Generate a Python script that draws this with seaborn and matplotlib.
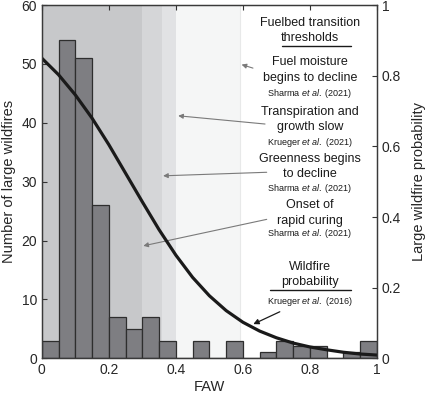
import matplotlib
matplotlib.use("Agg")
import matplotlib.pyplot as plt
import seaborn as sns
import numpy as np
import pandas as pd

# histogram of large wildfires per FAW bin (bin width 0.05)
bin_starts = [0.00, 0.05, 0.10, 0.15, 0.20, 0.25, 0.30, 0.35, 0.40, 0.45,
              0.50, 0.55, 0.60, 0.65, 0.70, 0.75, 0.80, 0.85, 0.90, 0.95]
fire_counts = [3, 54, 51, 26, 7, 5, 7, 3, 0, 3,
               0, 3, 0, 1, 3, 2, 2, 0, 1, 3]

# wildfire probability curve (Krueger et al. 2016)
curve_faw = [0.00, 0.05, 0.10, 0.15, 0.20, 0.25, 0.30, 0.35, 0.40, 0.45, 0.50,
             0.55, 0.60, 0.65, 0.70, 0.75, 0.80, 0.85, 0.90, 0.95, 1.00]
curve_prob = [0.850, 0.803, 0.746, 0.680, 0.605, 0.524, 0.443, 0.364, 0.292, 0.229, 0.177,
              0.135, 0.102, 0.077, 0.058, 0.043, 0.032, 0.024, 0.017, 0.012, 0.009]

# fuelbed transition thresholds (FAW) and their shading
thresholds = [0.59, 0.40, 0.36, 0.30]
shades = ['#f5f6f6', '#e1e2e4', '#d5d6d8', '#c7c8ca']

sns.set_style('white')
plt.rcParams['font.family'] = ['Liberation Sans', 'DejaVu Sans']
plt.rcParams['mathtext.fontset'] = 'custom'
plt.rcParams['mathtext.rm'] = 'Liberation Sans'
plt.rcParams['mathtext.it'] = 'Liberation Sans:italic'

hist_df = pd.DataFrame({'faw': np.array(bin_starts) + 0.025, 'count': fire_counts})
curve_df = pd.DataFrame({'faw': curve_faw, 'prob': curve_prob})

fig = plt.figure(figsize=(4.26, 3.95), dpi=100)
ax = fig.add_axes([0.098, 0.093, 0.787, 0.894])

for t, c in zip(thresholds, shades):
    ax.axvspan(0, t, color=c, lw=0, zorder=0)
ax.axvline(thresholds[0], color='#e8e9e9', lw=0.8, zorder=0)

sns.histplot(data=hist_df, x='faw', weights='count', binwidth=0.05, binrange=(0, 1),
             color='#7e7e82', edgecolor='#2e2e2e', linewidth=0.9, alpha=1, ax=ax)

ax.set_xlim(0, 1)
ax.set_ylim(0, 60)
ax.set_xticks([0, 0.2, 0.4, 0.6, 0.8, 1])
ax.set_xticklabels(['0', '0.2', '0.4', '0.6', '0.8', '1'])
ax.set_yticks([0, 10, 20, 30, 40, 50, 60])
ax.set_xlabel('FAW', fontsize=10.5, labelpad=2)
ax.set_ylabel('Number of large wildfires', fontsize=10.5, labelpad=4)
ax.tick_params(direction='in', length=3.5, width=0.8, labelsize=10, top=True, color='#333333')

ax2 = ax.twinx()
sns.lineplot(data=curve_df, x='faw', y='prob', color='#1a1a1a', lw=2.3, ax=ax2)
ax2.set_ylim(0, 1)
ax2.set_xlim(0, 1)
ax2.set_yticks([0, 0.2, 0.4, 0.6, 0.8, 1])
ax2.set_yticklabels(['0', '0.2', '0.4', '0.6', '0.8', '1'])
ax2.set_ylabel('Large wildfire probability', fontsize=10.5, labelpad=8)
ax2.set_xlabel('')
ax2.tick_params(direction='in', length=3.5, width=0.8, labelsize=10, color='#333333')

for a in (ax, ax2):
    for s in a.spines.values():
        s.set_color('#3a3a3a')
        s.set_linewidth(0.9)

# annotation column
big = 9
small = 6.5
xc = 0.80
lines = [
    ('Fuelbed transition', 0.949, big), ('thresholds', 0.907, big),
    ('Fuel moisture', 0.839, big), ('begins to decline', 0.793, big),
    (r'Sharma $\it{et\ al.}$ (2021)', 0.751, small),
    ('Transpiration and', 0.697, big), ('growth slow', 0.654, big),
    (r'Krueger $\it{et\ al.}$ (2021)', 0.612, small),
    ('Greenness begins', 0.564, big), ('to decline', 0.522, big),
    (r'Sharma $\it{et\ al.}$ (2021)', 0.482, small),
    ('Onset of', 0.434, big), ('rapid curing', 0.389, big),
    (r'Sharma $\it{et\ al.}$ (2021)', 0.352, small),
    ('Wildfire', 0.258, big), ('probability', 0.216, big),
    (r'Krueger $\it{et\ al.}$ (2016)', 0.162, small),
]
for txt, y, fs in lines:
    ax.text(xc, y, txt, transform=ax.transAxes, ha='center', va='center',
            fontsize=fs, color='#1a1a1a', zorder=5)

ax.plot([0.716, 0.921], [0.885, 0.885], transform=ax.transAxes, color='#1a1a1a', lw=1.0, zorder=5)
ax.plot([0.680, 0.921], [0.193, 0.193], transform=ax.transAxes, color='#1a1a1a', lw=1.0, zorder=5)

arrows = [
    ((0.596, 49.9), (0.630, 49.3)),
    ((0.407, 41.2), (0.666, 39.8)),
    ((0.362, 31.0), (0.671, 31.6)),
    ((0.303, 19.1), (0.671, 23.6)),
]
for head, tail in arrows:
    ax.annotate('', xy=head, xytext=tail,
                arrowprops=dict(arrowstyle='-|>', color='#7a7a7a', lw=0.8,
                                mutation_scale=7, shrinkA=0, shrinkB=0), zorder=6)
ax2.annotate('', xy=(0.631, 5.8 / 60), xytext=(0.710, 7.9 / 60),
             arrowprops=dict(arrowstyle='-|>', color='#1a1a1a', lw=0.9,
                             mutation_scale=8, shrinkA=0, shrinkB=0))

fig.savefig('out.png', dpi=100)
